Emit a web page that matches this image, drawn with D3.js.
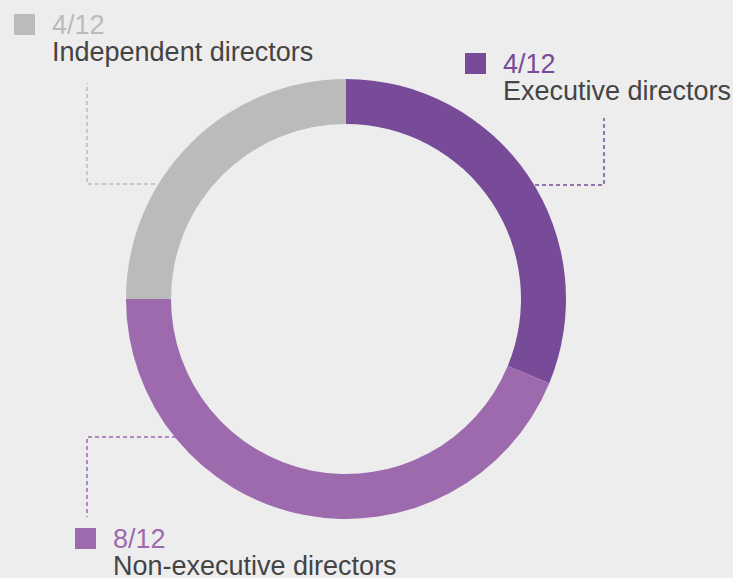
<!DOCTYPE html>
<html>
<head>
<meta charset="utf-8">
<script src="https://cdn.jsdelivr.net/npm/d3@7"></script>
<style>
  body { margin: 0; background: #ededed; }
  svg { display: block; font-family: "Liberation Sans", Arial, sans-serif; }
</style>
</head>
<body>
<div id="chart"></div>
<script>
const categories = ["Executive directors", "Non-executive directors", "Independent directors"];
const shares = [5, 7, 4];               // arc sizes as drawn
const fractions = ["4/12", "8/12", "4/12"];
const colors = ["#784b98", "#9c6aad", "#bbbbbc"];

const width = 733, height = 578;
const cx = 346, cy = 299;
const outerR = 220, innerR = 175;

const svg = d3.select("#chart").append("svg")
  .attr("width", width)
  .attr("height", height);

svg.append("rect").attr("width", width).attr("height", height).attr("fill", "#ededed");

const pie = d3.pie().sort(null).value(d => d);
const arc = d3.arc().innerRadius(innerR).outerRadius(outerR);

const g = svg.append("g").attr("transform", `translate(${cx},${cy})`);
g.selectAll("path")
  .data(pie(shares))
  .enter()
  .append("path")
  .attr("d", arc)
  .attr("fill", (d, i) => colors[i]);

// leader lines (dashed), one per category
const leaders = [
  [[535, 185], [604, 185], [604, 118]],
  [[176, 437], [87, 437], [87, 517]],
  [[155, 184], [87, 184], [87, 83]]
];
const line = d3.line();
svg.selectAll(".leader")
  .data(leaders)
  .enter()
  .append("path")
  .attr("class", "leader")
  .attr("d", d => line(d))
  .attr("fill", "none")
  .attr("stroke", (d, i) => colors[i])
  .attr("stroke-width", 1.5)
  .attr("stroke-dasharray", "4,3");

// legend blocks
const legendPos = [
  {x: 465, y: 53},
  {x: 75, y: 528},
  {x: 14, y: 14}
];

const legend = svg.selectAll(".legend")
  .data(categories)
  .enter()
  .append("g")
  .attr("class", "legend")
  .attr("transform", (d, i) => `translate(${legendPos[i].x},${legendPos[i].y})`);

legend.append("rect")
  .attr("width", 21)
  .attr("height", 21)
  .attr("fill", (d, i) => colors[i]);

legend.append("text")
  .attr("x", 38)
  .attr("y", 20)
  .attr("fill", (d, i) => colors[i])
  .style("font-size", "27px")
  .text((d, i) => fractions[i]);

legend.append("text")
  .attr("x", 38)
  .attr("y", 47)
  .attr("fill", "#444")
  .style("font-size", "27px")
  .text(d => d);
</script>
</body>
</html>
